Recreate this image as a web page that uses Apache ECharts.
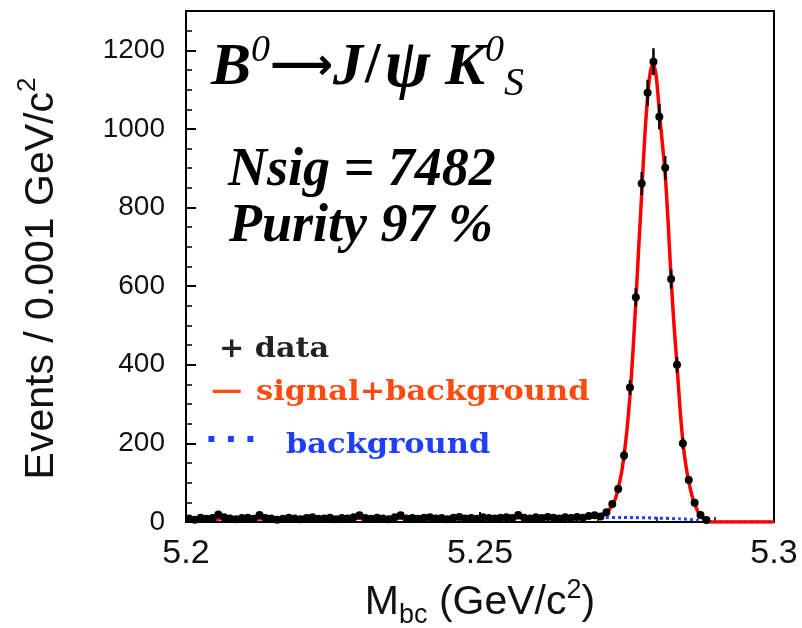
<!DOCTYPE html>
<html><head><meta charset="utf-8">
<script src="https://cdn.jsdelivr.net/npm/echarts@6/dist/echarts.min.js"></script>
<style>html,body{margin:0;padding:0;background:#fff}#c{width:802px;height:628px}</style>
</head><body><div id="c"></div>
<script>
// Histogram: bins of 0.001 GeV/c^2 starting at 5.200
const binLow = 5.2;
const binWidth = 0.001;
const counts = [
  9, 6, 11, 8, 10, 19, 12, 9, 7, 10,
  11, 8, 18, 10, 9, 6, 8, 11, 9, 7,
  10, 12, 8, 9, 11, 7, 10, 9, 12, 17,
  10, 8, 11, 9, 7, 12, 17, 9, 10, 8,
  11, 12, 9, 10, 7, 11, 13, 9, 10, 8,
  12, 10, 9, 11, 12, 10, 18, 11, 9, 12,
  10, 13, 11, 9, 12, 10, 13, 11, 15, 17,
  14,
  25, 46, 84, 169, 342, 572, 861, 1092, 1171, 1031,
  901, 618, 400, 200, 107, 49, 18, 5
];
// signal+background fit curve
const fitX = [5.200,5.210,5.220,5.230,5.240,5.250,5.260,5.265,5.268,5.270,
  5.271,5.272,5.273,5.274,5.2745,5.275,5.2755,5.276,5.2765,5.277,
  5.2775,5.278,5.2785,5.279,5.2795,5.280,5.2805,5.281,5.2815,5.282,
  5.2825,5.283,5.2835,5.284,5.2845,5.285,5.2855,5.286,5.2865,5.287,
  5.2875,5.288,5.2885,5.289,5.290,5.300];
const fitY = [7.5,8.5,9,9.5,10,10.5,11.5,12.5,14,17,
  21,32,58,120,170,235,320,430,560,700,
  835,975,1080,1148,1166,1130,1045,965,885,760,
  620,500,400,292,205,145,103,70,47,28,
  15,8,3,0.5,0,0];
// background curve
const bgX = [5.200,5.220,5.240,5.250,5.260,5.270,5.275,5.280,5.284,5.287,5.288,5.2885,5.289,5.300];
const bgY = [7,8,9,9.5,10.5,11.5,11.5,10,8,5,3.5,2,0,0];
// axis ticks
const xTicks = { min: 5.2, max: 5.3, interval: 0.05 };
const yTicks = { min: 0, max: 1300, interval: 200 };

const histData = counts.map((c, i) => [+(binLow + (i + 0.5) * binWidth).toFixed(4), c, Math.sqrt(c)]);
const fitData = fitX.map((x, i) => [x, fitY[i]]);
const bgData = bgX.map((x, i) => [x, bgY[i]]);

const chart = echarts.init(document.getElementById('c'), null, { renderer: 'canvas' });
const axisFont = 'Liberation Sans';
const bigSerif = 'Liberation Serif';

chart.setOption({
  animation: false,
  backgroundColor: '#fff',
  grid: { left: 186, right: 28, top: 11, bottom: 106, show: true, borderColor: '#000', borderWidth: 2,
          containLabel: false, outerBoundsMode: 'none' },
  xAxis: {
    type: 'value', min: xTicks.min, max: xTicks.max, interval: xTicks.interval,
    axisLine: { lineStyle: { color: '#000', width: 2 } },
    axisTick: { inside: true, length: 10, lineStyle: { color: '#000', width: 2 } },
    minorTick: { show: true, splitNumber: 5, length: 5, lineStyle: { color: '#000', width: 1.5 } },
    splitLine: { show: false },
    axisLabel: { color: '#111', fontSize: 34, fontFamily: axisFont, margin: 15 },
    name: '{m|M}{sub|bc}{m| (GeV/c}{sup|2}{m|)}',
    nameLocation: 'middle', nameGap: 55,
    nameTextStyle: {
      rich: {
        m: { fontSize: 41, fontFamily: axisFont, color: '#111', lineHeight: 52 },
        sub: { fontSize: 27, fontFamily: axisFont, color: '#111', verticalAlign: 'bottom', lineHeight: 52 },
        sup: { fontSize: 27, fontFamily: axisFont, color: '#111', verticalAlign: 'top', lineHeight: 52 }
      }
    }
  },
  yAxis: {
    type: 'value', min: yTicks.min, max: yTicks.max, interval: yTicks.interval,
    axisLine: { lineStyle: { color: '#000', width: 2 } },
    axisTick: { inside: true, length: 10, lineStyle: { color: '#000', width: 2 } },
    minorTick: { show: true, splitNumber: 4, length: 6, lineStyle: { color: '#000', width: 1.5 } },
    splitLine: { show: false },
    axisLabel: { color: '#111', fontSize: 28, fontFamily: axisFont, margin: 21, showMaxLabel: false,
                 formatter: v => String(v) },
    name: '{m|Events / 0.001 GeV/c}{sup|2}',
    nameLocation: 'middle', nameGap: 117, nameRotate: 90,
    nameTextStyle: {
      padding: [0, 24, 0, 0],
      rich: {
        m: { fontSize: 41, fontFamily: axisFont, color: '#111', lineHeight: 54 },
        sup: { fontSize: 26, fontFamily: axisFont, color: '#111', verticalAlign: 'top', lineHeight: 54 }
      }
    }
  },
  series: [
    {
      name: 'background', type: 'line', data: bgData, showSymbol: false, smooth: 0.2,
      lineStyle: { color: '#1f3fff', width: 3, type: 'dotted' }, z: 2, silent: true
    },
    {
      name: 'signal+background', type: 'line', data: fitData, showSymbol: false, smooth: 0.25,
      lineStyle: { color: '#ff0000', width: 3.5 }, z: 3, silent: true
    },
    {
      name: 'data', type: 'custom', z: 5, silent: true,
      data: histData,
      renderItem: function (params, api) {
        const x = api.value(0), y = api.value(1), e = api.value(2);
        const c = api.coord([x, y]);
        const top = api.coord([x, y + e]);
        const bot = api.coord([x, Math.max(0, y - e)]);
        const hw = api.size([binWidth, 0])[0] / 2;
        return {
          type: 'group',
          children: [
            { type: 'line', shape: { x1: c[0], y1: top[1], x2: c[0], y2: bot[1] }, style: { stroke: '#000', lineWidth: 2.5 } },
            { type: 'line', shape: { x1: c[0] - hw, y1: c[1], x2: c[0] + hw, y2: c[1] }, style: { stroke: '#000', lineWidth: 2.5 } },
            { type: 'circle', shape: { cx: c[0], cy: c[1], r: 4 }, style: { fill: '#000' } }
          ]
        };
      }
    }
  ],
  graphic: [
    {
      type: 'text', x: 211, y: 68, z: 10,
      style: {
        verticalAlign: 'middle',
        text: '{b|B}{s|0}{a|⟶}{b|J}{sl|/}{p|ψ}{b| K}{s|0}{u|S}',
        rich: {
          b: { fontFamily: bigSerif, fontWeight: 'bold', fontStyle: 'italic', fontSize: 60, fill: '#000', lineHeight: 72 },
          a: { fontFamily: 'DejaVu Sans', fontWeight: 'bold', fontSize: 44, fill: '#000', lineHeight: 72 },
          sl: { fontFamily: bigSerif, fontWeight: 'bold', fontSize: 56, fill: '#000', lineHeight: 72, padding: [0, 4, 0, 2] },
          p: { fontFamily: bigSerif, fontWeight: 'bold', fontStyle: 'italic', fontSize: 68, fill: '#000', lineHeight: 72 },
          s: { fontFamily: bigSerif, fontStyle: 'italic', fontSize: 38, fill: '#000', verticalAlign: 'top', lineHeight: 72 },
          u: { fontFamily: bigSerif, fontStyle: 'italic', fontSize: 40, fill: '#000', verticalAlign: 'bottom', lineHeight: 72 }
        }
      }
    },
    {
      type: 'text', x: 228, y: 171, z: 10,
      style: { text: 'Nsig = 7482', font: 'italic bold 54px "Liberation Serif"', fill: '#000', verticalAlign: 'middle' }
    },
    {
      type: 'text', x: 229, y: 227, z: 10,
      style: { text: 'Purity 97 %', font: 'italic bold 54px "Liberation Serif"', fill: '#000', verticalAlign: 'middle' }
    },
    {
      type: 'text', x: 219, y: 350, scaleX: 1.08, z: 10,
      style: { text: '+ data', font: 'bold 28px "DejaVu Serif"', fill: '#222', verticalAlign: 'middle' }
    },
    {
      type: 'text', x: 211, y: 392, scaleX: 1.12, z: 10,
      style: { text: '—', font: 'bold 28px "DejaVu Serif"', fill: '#ff4a10', verticalAlign: 'middle' }
    },
    {
      type: 'text', x: 256, y: 393, scaleX: 1.09, z: 10,
      style: { text: 'signal+background', font: 'bold 28px "DejaVu Serif"', fill: '#ff4a10', verticalAlign: 'middle' }
    },
    {
      type: 'text', x: 205, y: 442, scaleX: 1.05, z: 10,
      style: { text: '·\u2009·\u2009·', font: 'bold 32px "DejaVu Sans"', fill: '#1f3fff', verticalAlign: 'middle' }
    },
    {
      type: 'text', x: 286, y: 446, scaleX: 1.09, z: 10,
      style: { text: 'background', font: 'bold 28px "DejaVu Serif"', fill: '#1f3fff', verticalAlign: 'middle' }
    }
  ]
});
</script>
</body></html>
